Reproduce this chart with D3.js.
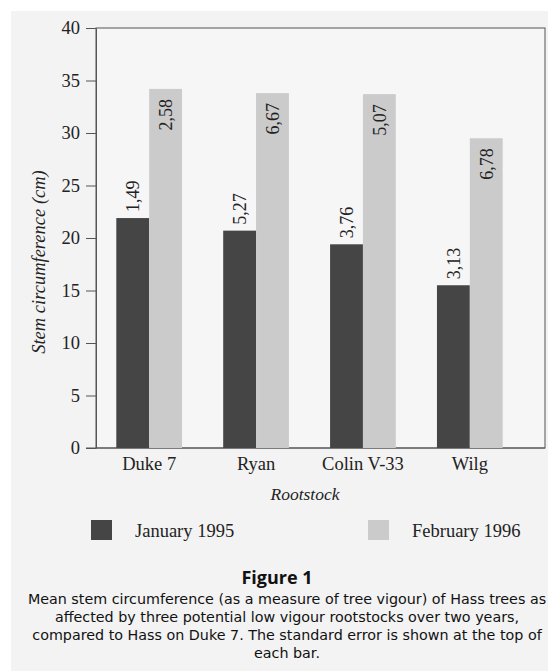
<!DOCTYPE html>
<html><head><meta charset="utf-8">
<script src="https://cdn.jsdelivr.net/npm/d3@7"></script>
<style>html,body{margin:0;padding:0;background:#fff;}svg{display:block;}</style>
</head><body>
<script>
const categories = ["Duke 7", "Ryan", "Colin V-33", "Wilg"];
const seriesNames = ["January 1995", "February 1996"];
const jan1995 = [21.9, 20.7, 19.4, 15.5];
const feb1996 = [34.2, 33.8, 33.7, 29.5];
const janSE = ["1,49", "5,27", "3,76", "3,13"];
const febSE = ["2,58", "6,67", "5,07", "6,78"];
const yTicks = [0, 5, 10, 15, 20, 25, 30, 35, 40];
const captionTitle = "Figure 1";
const captionLines = [
  "Mean stem circumference (as a measure of tree vigour) of Hass trees as",
  "affected by three potential low vigour rootstocks over two years,",
  "compared to Hass on Duke 7. The standard error is shown at the top of",
  "each bar."
];

(function () {
const W = 548, H = 671;
const serif = "'Liberation Serif','DejaVu Serif',serif";
const sans = "'Open Sans','Noto Sans',sans-serif";
const capSans = "'DejaVu Sans',sans-serif";
const darkC = "#454545", lightC = "#cbcbcb", bg = "#f3f3f3", ink = "#222";

const svg = d3.select("body").append("svg").attr("width", W).attr("height", H);
svg.append("rect").attr("x", 11).attr("y", 11).attr("width", W - 11).attr("height", H - 11).attr("fill", bg);

const pLeft = 96, pRight = 545, pTop = 28, pBottom = 448;
const y = d3.scaleLinear().domain([0, 40]).range([pBottom, pTop]);
const x0 = d3.scaleBand().domain(categories).range([pLeft, 523]).paddingInner(0.385).paddingOuter(0.19);
const x1 = d3.scaleBand().domain(seriesNames).range([0, x0.bandwidth()]);

svg.append("rect").attr("x", pLeft).attr("y", pTop).attr("width", pRight - pLeft).attr("height", pBottom - pTop)
  .attr("fill", "#f6f6f6").attr("stroke", "#555").attr("stroke-width", 1);

const yAxis = d3.axisLeft(y).tickValues(yTicks).tickSize(10).tickPadding(6).tickSizeOuter(0);
const gy = svg.append("g").attr("transform", `translate(${pLeft},0)`).call(yAxis);
gy.select(".domain").attr("stroke", "#555");
gy.selectAll(".tick line").attr("stroke", "#555");
gy.selectAll(".tick text").attr("font-family", serif).attr("font-size", 18.5).attr("fill", ink);

const xAxis = d3.axisBottom(x0).tickSize(0).tickPadding(9);
const gx = svg.append("g").attr("transform", `translate(0,${pBottom})`).call(xAxis);
gx.select(".domain").attr("stroke", "#555").attr("d", `M${pLeft - 10},0H${pRight}`);
gx.selectAll(".tick text").attr("font-family", serif).attr("font-size", 18.5).attr("fill", ink);

const data = categories.map((c, i) => ({c, vals: [
  {s: seriesNames[0], v: jan1995[i], se: janSE[i]},
  {s: seriesNames[1], v: feb1996[i], se: febSE[i]}
]}));

const groups = svg.selectAll("g.grp").data(data).join("g").attr("class", "grp")
  .attr("transform", d => `translate(${x0(d.c)},0)`);
groups.selectAll("rect").data(d => d.vals).join("rect")
  .attr("x", d => x1(d.s)).attr("width", x1.bandwidth())
  .attr("y", d => y(d.v)).attr("height", d => y(0) - y(d.v))
  .attr("fill", (d, i) => i === 0 ? darkC : lightC);
groups.selectAll("text.se").data(d => d.vals).join("text").attr("class", "se")
  .attr("transform", (d, i) => {
    const cx = x1(d.s) + x1.bandwidth() / 2;
    const yy = i === 0 ? y(d.v) - 6 : y(d.v) + 10;
    return `translate(${cx},${yy}) rotate(-90)`;
  })
  .attr("text-anchor", (d, i) => i === 0 ? "start" : "end")
  .attr("dy", "0.35em")
  .attr("font-family", serif).attr("font-size", 18).attr("fill", ink)
  .text(d => d.se);

svg.append("text").attr("transform", `translate(45,262) rotate(-90)`).attr("text-anchor", "middle")
  .attr("font-family", serif).attr("font-style", "italic").attr("font-size", 18.5).attr("fill", ink)
  .text("Stem circumference (cm)");
svg.append("text").attr("x", 305).attr("y", 500).attr("text-anchor", "middle")
  .attr("font-family", serif).attr("font-style", "italic").attr("font-size", 17.5).attr("fill", ink)
  .text("Rootstock");

const legendX = [91, 368];
seriesNames.forEach((s, i) => {
  svg.append("rect").attr("x", legendX[i]).attr("y", 520).attr("width", 21).attr("height", 20)
    .attr("fill", i === 0 ? darkC : lightC);
  svg.append("text").attr("x", legendX[i] + 44).attr("y", 537)
    .attr("font-family", serif).attr("font-size", 18.5).attr("fill", ink).text(s);
});

svg.append("text").attr("x", 277).attr("y", 584).attr("text-anchor", "middle")
  .attr("font-family", sans).attr("font-weight", "bold").attr("font-size", 18).attr("fill", "#111")
  .text(captionTitle);
captionLines.forEach((l, i) => {
  svg.append("text").attr("x", 287).attr("y", 604 + i * 18).attr("text-anchor", "middle")
    .attr("font-family", capSans).attr("font-size", 14.3).attr("fill", "#111").text(l);
});
})();
</script>
</body></html>
